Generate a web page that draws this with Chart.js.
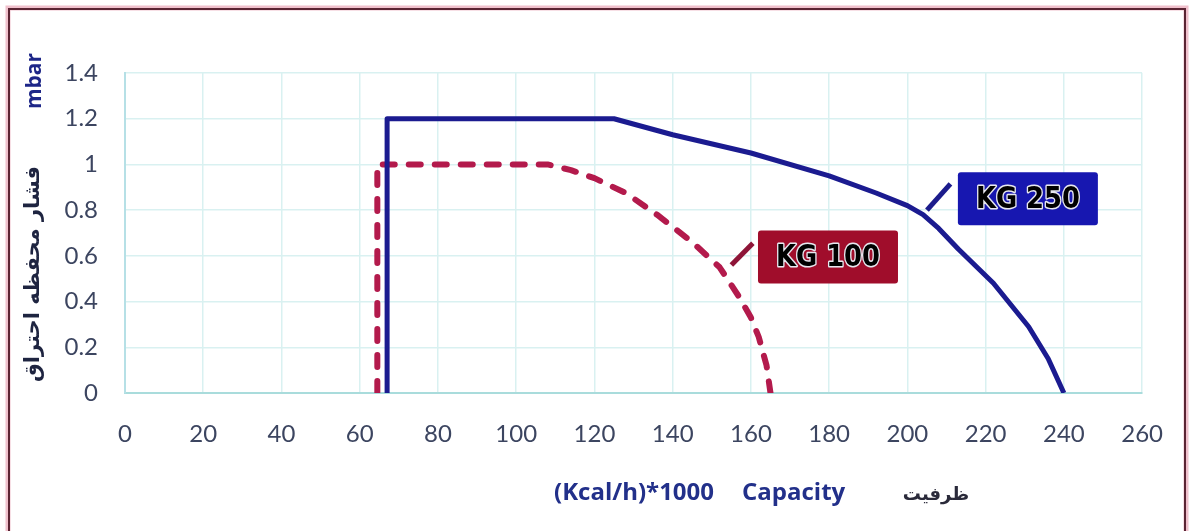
<!DOCTYPE html>
<html>
<head>
<meta charset="utf-8">
<script src="https://cdn.jsdelivr.net/npm/chart.js@4/dist/chart.umd.min.js"></script>
<style>
  html, body { margin: 0; padding: 0; background: #fff; }
  #wrap { position: relative; width: 1190px; height: 531px; }
</style>
</head>
<body>
<div id="wrap"><canvas id="chart"></canvas></div>
<script>
// curve readings (capacity x1000 kcal/h, pressure mbar)
const kg250X = [67, 67, 125, 140, 160, 180, 192, 200, 204, 208, 213, 222, 231, 236, 240];
const kg250Y = [0, 1.2, 1.2, 1.13, 1.05, 0.95, 0.875, 0.82, 0.78, 0.72, 0.63, 0.48, 0.29, 0.15, 0];
const kg100X = [64.5, 64.5, 108, 114, 120, 128, 136, 145, 152, 157, 160, 162, 164, 165];
const kg100Y = [0, 1.0, 1.0, 0.975, 0.94, 0.875, 0.78, 0.66, 0.55, 0.42, 0.33, 0.245, 0.12, 0];
const xTicks = [0, 20, 40, 60, 80, 100, 120, 140, 160, 180, 200, 220, 240, 260];
const yTicks = [0, 0.2, 0.4, 0.6, 0.8, 1, 1.2, 1.4];

// callout labels, anchored in data units
const callouts = [
    { text: 'KG 250', x: 230.8, y: 0.85, fill: '#1717b0', line: '#1c1c8c', lead: [[205, 0.8], [211, 0.915]] },
    { text: 'KG 100', x: 179.7, y: 0.595, fill: '#a00d2b', line: '#8e1538', lead: [[155, 0.56], [160.5, 0.655]] }
];

function pts(xs, ys) {
    return xs.map((x, i) => ({ x: x, y: ys[i] }));
}

const extras = {
    id: 'extras',
    afterDraw(chart) {
        const c = chart.ctx;
        const xs = chart.scales.x, ys = chart.scales.y;
        c.save();

        // callouts
        callouts.forEach(co => {
            c.strokeStyle = co.line;
            c.lineWidth = 5;
            c.lineCap = 'butt';
            c.beginPath();
            c.moveTo(xs.getPixelForValue(co.lead[0][0]), ys.getPixelForValue(co.lead[0][1]));
            c.lineTo(xs.getPixelForValue(co.lead[1][0]), ys.getPixelForValue(co.lead[1][1]));
            c.stroke();

            const cx = xs.getPixelForValue(co.x), cy = ys.getPixelForValue(co.y);
            const w = 140, h = 53;
            c.fillStyle = co.fill;
            c.beginPath();
            c.roundRect(cx - w / 2, cy - h / 2, w, h, 3);
            c.fill();

            c.save();
            c.font = 'bold 30px "DejaVu Sans", sans-serif';
            const tw = c.measureText(co.text).width;
            c.translate(cx, cy + 1);
            c.scale(104 / tw, 1);
            c.textAlign = 'center';
            c.textBaseline = 'middle';
            c.lineJoin = 'round';
            c.strokeStyle = '#e8e8f0';
            c.lineWidth = 3;
            c.strokeText(co.text, 0, 0);
            c.fillStyle = '#000';
            c.fillText(co.text, 0, 0);
            c.restore();
        });

        // axis titles
        c.textBaseline = 'middle';
        c.save();
        c.translate(35, 81);
        c.rotate(-Math.PI / 2);
        c.textAlign = 'center';
        c.fillStyle = '#1d2688';
        c.font = 'bold 21px "Open Sans", sans-serif';
        c.fillText('mbar', 0, 0);
        c.restore();

        c.save();
        c.translate(34, 274);
        c.rotate(-Math.PI / 2);
        c.textAlign = 'center';
        c.fillStyle = '#1e2440';
        c.font = 'bold 21px "DejaVu Sans", sans-serif';
        c.direction = 'rtl';
        c.fillText('فشار محفظه احتراق', 0, 0);
        c.restore();

        c.textAlign = 'left';
        c.fillStyle = '#22308a';
        c.font = 'bold 24px "Open Sans", sans-serif';
        c.fillText('(Kcal/h)*1000', 554, 493);
        c.fillText('Capacity', 742, 493);

        c.fillStyle = '#2a2a3a';
        c.font = 'bold 18px "DejaVu Sans", sans-serif';
        c.textAlign = 'center';
        c.fillText('ظرفیت', 936, 495);

        // page frame
        c.strokeStyle = 'rgba(230,150,170,0.6)';
        c.lineWidth = 5;
        c.strokeRect(8, 8, 1178, 540);
        c.strokeStyle = '#5a2433';
        c.lineWidth = 2;
        c.strokeRect(9, 9, 1176, 540);
        c.restore();
    }
};

new Chart(document.getElementById('chart'), {
    type: 'scatter',
    data: {
        datasets: [
            {
                label: 'KG 250',
                data: pts(kg250X, kg250Y),
                showLine: true,
                borderColor: '#1b1b90',
                borderWidth: 5,
                pointRadius: 0,
                tension: 0,
                borderJoinStyle: 'round'
            },
            {
                label: 'KG 100',
                data: pts(kg100X, kg100Y),
                showLine: true,
                borderColor: '#b31a4c',
                borderWidth: 6,
                borderDash: [12, 14],
                borderCapStyle: 'round',
                borderJoinStyle: 'round',
                pointRadius: 0,
                tension: 0
            }
        ]
    },
    options: {
        responsive: true,
        maintainAspectRatio: false,
        animation: false,
        layout: { padding: { left: 0, top: 73, right: 42, bottom: 0 } },
        plugins: { legend: { display: false }, tooltip: { enabled: false } },
        scales: {
            x: {
                type: 'linear',
                min: 0,
                max: 260,
                afterBuildTicks: s => { s.ticks = xTicks.map(v => ({ value: v })); },
                afterFit: s => { s.height = 138; },
                ticks: { color: '#3c4560', font: { family: 'Lato', size: 24 }, padding: 27, maxRotation: 0, callback: v => String(v) },
                grid: { color: '#d9f1f1', lineWidth: 1.5, drawTicks: false },
                border: { color: '#a9dcdc', width: 2 }
            },
            y: {
                min: 0,
                max: 1.4,
                afterBuildTicks: s => { s.ticks = yTicks.map(v => ({ value: v })); },
                afterFit: s => { s.width = 125; },
                ticks: { color: '#3c4560', font: { family: 'Lato', size: 24 }, padding: 27, callback: v => String(v) },
                grid: { color: '#d9f1f1', lineWidth: 1.5, drawTicks: false },
                border: { color: '#b6e0e6', width: 2 }
            }
        }
    },
    plugins: [extras]
});
</script>
</body>
</html>
